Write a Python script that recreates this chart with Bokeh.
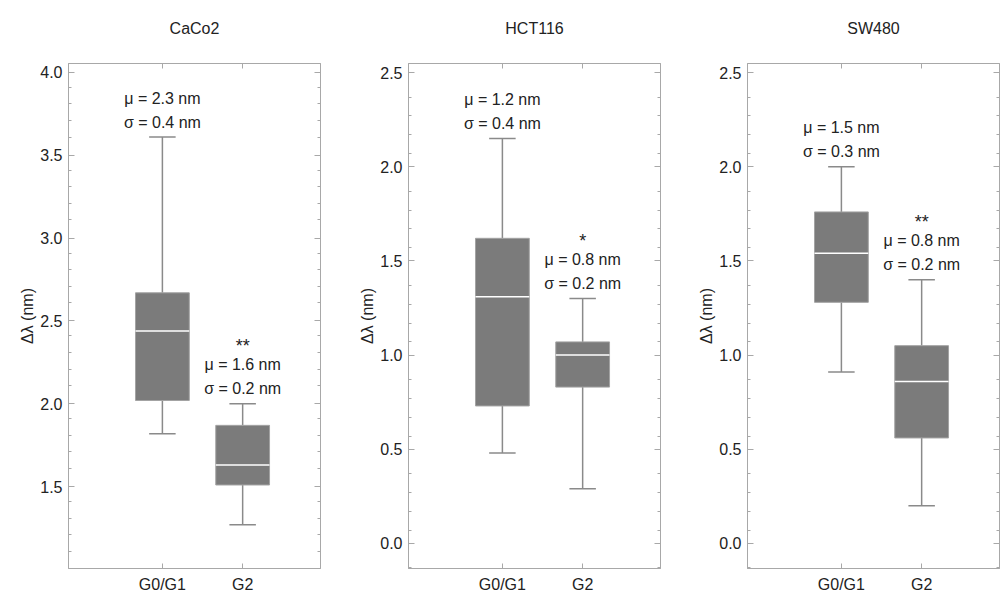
import numpy as np
from bokeh.plotting import figure
from bokeh.layouts import row
from bokeh.models import ColumnDataSource, FixedTicker, LinearAxis, PrintfTickFormatter, Range1d
from bokeh.core.properties import value
from bokeh.embed import file_html
from bokeh.resources import INLINE

# ---------------- data ----------------
groups = ["G0/G1", "G2"]
positions = [1, 2]
cell_lines = ["CaCo2", "HCT116", "SW480"]

caco2_low = [1.82, 1.27]
caco2_q1 = [2.02, 1.51]
caco2_med = [2.44, 1.63]
caco2_q3 = [2.67, 1.87]
caco2_up = [3.61, 2.00]
caco2_mu = ["μ = 2.3 nm", "μ = 1.6 nm"]
caco2_sigma = ["σ = 0.4 nm", "σ = 0.2 nm"]
caco2_sig = ["", "**"]

hct116_low = [0.48, 0.29]
hct116_q1 = [0.73, 0.83]
hct116_med = [1.31, 1.00]
hct116_q3 = [1.62, 1.07]
hct116_up = [2.15, 1.30]
hct116_mu = ["μ = 1.2 nm", "μ = 0.8 nm"]
hct116_sigma = ["σ = 0.4 nm", "σ = 0.2 nm"]
hct116_sig = ["", "*"]

sw480_low = [0.91, 0.20]
sw480_q1 = [1.28, 0.56]
sw480_med = [1.54, 0.86]
sw480_q3 = [1.76, 1.05]
sw480_up = [2.00, 1.40]
sw480_mu = ["μ = 1.5 nm", "μ = 0.8 nm"]
sw480_sigma = ["σ = 0.3 nm", "σ = 0.2 nm"]
sw480_sig = ["", "**"]

caco2_yticks = [1.5, 2.0, 2.5, 3.0, 3.5, 4.0]
hct116_yticks = [0.0, 0.5, 1.0, 1.5, 2.0, 2.5]
sw480_yticks = [0.0, 0.5, 1.0, 1.5, 2.0, 2.5]

caco2_yrange = (1.006, 4.054)
hct116_yrange = (-0.133, 2.548)
sw480_yrange = (-0.133, 2.548)

y_label = "Δλ (nm)"

# ---------------- style ----------------
FONT = "Liberation Sans"
TEXT = "#222222"
FRAME = "#a8a8a8"
BOX = "#7b7b7b"
BOX_EDGE = "#a3a3a3"
WHISK = "#8a8a8a"
BOX_W = 0.67
CAP_W = 0.33


def style_axis(ax, labels=True):
    ax.axis_line_color = FRAME
    ax.major_tick_line_color = FRAME
    ax.minor_tick_line_color = FRAME
    ax.major_tick_in = 6
    ax.major_tick_out = 0
    ax.minor_tick_in = 3
    ax.minor_tick_out = 0
    ax.major_label_text_font = FONT
    if labels:
        ax.major_label_text_color = TEXT
        ax.major_label_text_font_size = "16px"
        ax.major_label_standoff = 6
    else:
        ax.major_label_text_color = None
        ax.major_label_text_font_size = "1px"
        ax.major_label_standoff = 0


def panel(title, low, q1, med, q3, up, mu, sigma, sig, yrange, yticks, bl, br):
    # the trailing line break lifts the title to its place above the frame
    p = figure(frame_width=252, frame_height=505, x_range=Range1d(-0.17, 2.97),
               y_range=Range1d(*yrange), output_backend="svg", toolbar_location=None,
               title=title + "\n", min_border_left=bl, min_border_right=br,
               min_border_top=63, min_border_bottom=26)
    p.background_fill_color = "white"
    p.border_fill_color = "white"
    p.outline_line_color = FRAME
    p.grid.visible = False

    p.title.align = "center"
    p.title.text_font = FONT
    p.title.text_font_size = "16px"
    p.title.text_font_style = "normal"
    p.title.text_color = TEXT
    p.title.standoff = 19

    minor = list(np.round(np.arange(yrange[0] - 0.2, yrange[1] + 0.1, 0.1), 2))
    minor = [m for m in minor if round(m * 10) % 5 != 0]
    yt = FixedTicker(ticks=yticks, minor_ticks=minor)
    xt = FixedTicker(ticks=positions, minor_ticks=[])

    xa = p.xaxis[0]
    xa.ticker = xt
    xa.major_label_overrides = {pos: g for pos, g in zip(positions, groups)}
    style_axis(xa)
    xa.major_tick_in = 5
    xa.major_label_standoff = 7

    ya = p.yaxis[0]
    ya.ticker = yt
    ya.formatter = PrintfTickFormatter(format="%.1f")
    style_axis(ya)
    ya.axis_label = y_label
    ya.axis_label_text_font = FONT
    ya.axis_label_text_font_size = "16px"
    ya.axis_label_text_font_style = "normal"
    ya.axis_label_text_color = TEXT
    ya.axis_label_standoff = 1

    top = LinearAxis(ticker=FixedTicker(ticks=positions, minor_ticks=[]))
    style_axis(top, labels=False)
    top.major_tick_in = 5
    p.add_layout(top, "above")

    right = LinearAxis(ticker=FixedTicker(ticks=yticks, minor_ticks=minor))
    style_axis(right, labels=False)
    p.add_layout(right, "right")

    src = ColumnDataSource(dict(
        x=positions, low=low, q1=q1, med=med, q3=q3, up=up,
        x0=[x - BOX_W / 2 for x in positions], x1=[x + BOX_W / 2 for x in positions],
        c0=[x - CAP_W / 2 for x in positions], c1=[x + CAP_W / 2 for x in positions],
        mu=mu, sigma=sigma, sig=sig))

    p.segment("x", "q3", "x", "up", source=src, line_color=WHISK, line_width=1.5)
    p.segment("x", "low", "x", "q1", source=src, line_color=WHISK, line_width=1.5)
    p.segment("c0", "up", "c1", "up", source=src, line_color=WHISK, line_width=1.5)
    p.segment("c0", "low", "c1", "low", source=src, line_color=WHISK, line_width=1.5)
    p.vbar(x="x", width=BOX_W, bottom="q1", top="q3", source=src,
           fill_color=BOX, line_color=BOX_EDGE, line_width=1)
    p.segment("x0", "med", "x1", "med", source=src, line_color="white", line_width=1.5)

    common = dict(source=src, text_align="center", text_baseline="middle",
                  text_font=value(FONT), text_color=TEXT)
    p.text(x="x", y="up", text="sigma", y_offset=-15, text_font_size="16px", **common)
    p.text(x="x", y="up", text="mu", y_offset=-39, text_font_size="16px", **common)
    p.text(x="x", y="up", text="sig", y_offset=-58, text_font_size="18px", **common)
    return p


p1 = panel(cell_lines[0], caco2_low, caco2_q1, caco2_med, caco2_q3, caco2_up,
           caco2_mu, caco2_sigma, caco2_sig, caco2_yrange, caco2_yticks, 68, 15)
p2 = panel(cell_lines[1], hct116_low, hct116_q1, hct116_med, hct116_q3, hct116_up,
           hct116_mu, hct116_sigma, hct116_sig, hct116_yrange, hct116_yticks, 73, 10)
p3 = panel(cell_lines[2], sw480_low, sw480_q1, sw480_med, sw480_q3, sw480_up,
           sw480_mu, sw480_sigma, sw480_sig, sw480_yrange, sw480_yticks, 77, 4)

layout = row(p1, p2, p3, spacing=0)
open("out.html", "w").write(file_html(layout, INLINE))
